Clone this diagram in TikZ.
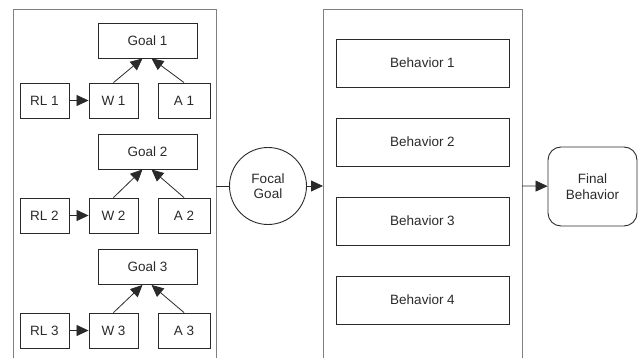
\documentclass[tikz,border=0pt]{standalone}
\usepackage{fontspec}
\setmainfont{Liberation Sans}
\usetikzlibrary{arrows.meta}
\definecolor{framegray}{HTML}{808080}
\definecolor{boxline}{HTML}{2A2A2A}
\begin{document}
\begin{tikzpicture}[x=1pt,y=-1pt,
  font=\fontsize{13.5}{15.5}\selectfont,
  every node/.style={text=boxline},
  box/.style={draw=boxline,line width=0.9pt,rectangle,inner sep=0pt,minimum height=35pt},
  goalbox/.style={box,minimum width=99pt},
  smallbox/.style={box,minimum width=49pt},
  abox/.style={box,minimum width=52pt},
  behbox/.style={box,minimum width=173pt,minimum height=48pt},
  frame/.style={draw=framegray,line width=1pt},
  conn/.style={draw=boxline,line width=0.8pt},
  arr/.style={conn,-{Triangle[length=12pt,width=11pt]}}]
\useasboundingbox (0,0) rectangle (638,358);

% open-bottomed containers
\draw[frame] (13,358) -- (13,10) -- (216,10) -- (216,358);
\draw[frame] (323,358) -- (323,10) -- (522,10) -- (522,358);

% goal groups
\foreach \i/\gy/\ry in {1/40.5/100.5, 2/151.5/215.5, 3/267/330.5}{
  \node[goalbox] (G\i) at (147.5,\gy) {Goal \i};
  \node[smallbox] (RL\i) at (44.5,\ry) {RL \i};
  \node[smallbox] (W\i) at (113.5,\ry) {W \i};
  \node[abox] (A\i) at (184,\ry) {A \i};
  \draw[arr] (RL\i) -- (W\i);
  \draw[arr] (W\i.north) -- ([xshift=-5pt]G\i.south);
  \draw[arr] (A\i.north) -- ([xshift=4pt]G\i.south);
}

% focal goal
\node[draw=boxline,line width=0.9pt,circle,minimum size=77pt,inner sep=0pt,align=center] (F) at (268,186) {Focal\\Goal};
\coordinate (lout) at (216,186);
\coordinate (rin) at (323,186);
\coordinate (rout) at (522,186);
\draw[conn] (lout) -- (F);
\draw[arr] (F) -- (rin);

% behaviours
\foreach \i/\by in {1/63, 2/142, 3/221, 4/300}{
  \node[behbox] (B\i) at (422.5,\by) {Behavior \i};
}

% final behaviour
\node[draw=boxline,line width=0.9pt,rounded corners=13pt,minimum width=89pt,minimum height=79pt,inner sep=0pt,align=center] (FB) at (592.5,186.5) {Final\\Behavior};
\draw[arr] (rout) -- (FB);
\end{tikzpicture}
\end{document}
